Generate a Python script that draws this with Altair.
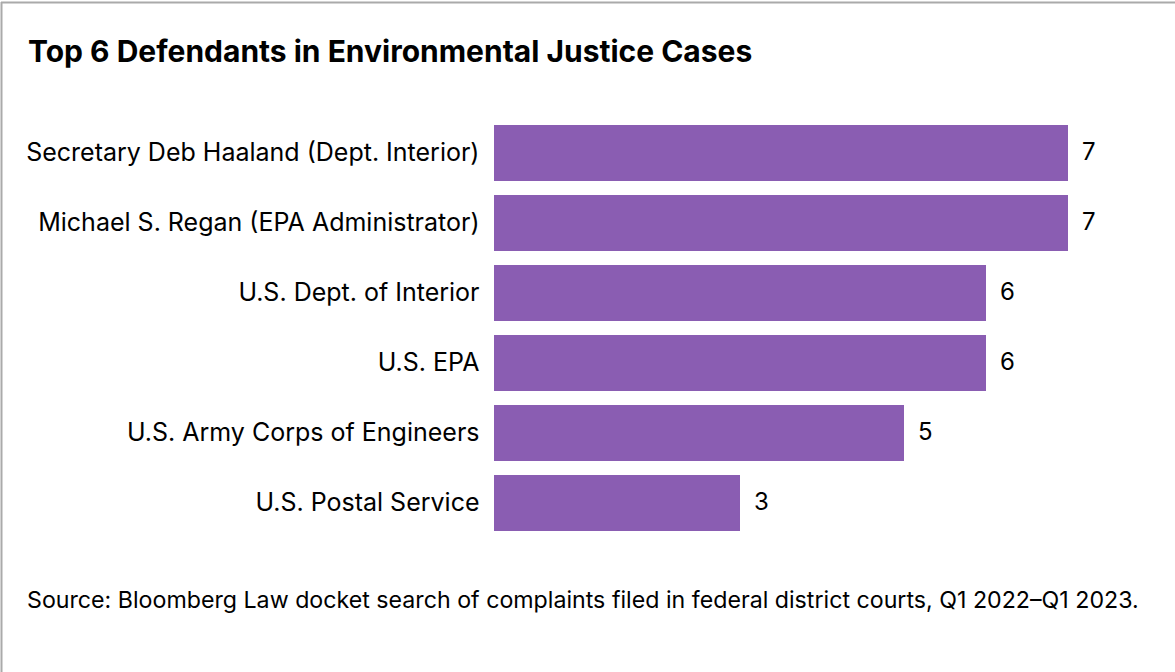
import altair as alt
import pandas as pd

# Defendants and number of environmental justice cases naming them
defendants = [
    "Secretary Deb Haaland (Dept. Interior)",
    "Michael S. Regan (EPA Administrator)",
    "U.S. Dept. of Interior",
    "U.S. EPA",
    "U.S. Army Corps of Engineers",
    "U.S. Postal Service",
]
cases = [7, 7, 6, 6, 5, 3]

title_text = "Top 6 Defendants in Environmental Justice Cases"
source_text = ("Source: Bloomberg Law docket search of complaints filed in federal "
               "district courts, Q1 2022\u2013Q1 2023.")

df = pd.DataFrame({"defendant": defendants, "cases": cases})

FONT = "Inter"
BAR_COLOR = "#8a5db2"
PLOT_W, PLOT_H = 574, 420
LEFT, TOP = 494, 118
TOTAL_W, TOTAL_H = 1175, 672

base = alt.Chart(df).encode(
    y=alt.Y(
        "defendant:N",
        sort=defendants,
        scale=alt.Scale(paddingInner=0.2, paddingOuter=0.1),
        axis=alt.Axis(
            title=None, domain=False, ticks=False, labelPadding=15,
            labelFontSize=25, labelColor="#000000", labelFont=FONT,
            labelLimit=700,
        ),
    )
)

bars = base.mark_bar(color=BAR_COLOR).encode(
    x=alt.X("cases:Q", scale=alt.Scale(domain=[0, 7], nice=False), axis=None)
)

values = base.mark_text(
    align="left", baseline="middle", dx=14, fontSize=24, font=FONT, color="#000000"
).encode(x="cases:Q", text="cases:Q")

note = alt.Chart(pd.DataFrame({"note": [source_text]})).mark_text(
    align="left", baseline="alphabetic", fontSize=23.2, font=FONT, color="#000000"
).encode(
    text="note:N",
    x=alt.value(27 - LEFT),
    y=alt.value(608 - TOP),
)

frame_df = pd.DataFrame({"k": [0]})
top_edge = alt.Chart(frame_df).mark_rule(color="#aaaaaa", strokeWidth=2).encode(
    x=alt.value(1 - LEFT), x2=alt.value(TOTAL_W - LEFT), y=alt.value(2.5 - TOP)
)
left_edge = alt.Chart(frame_df).mark_rule(color="#aaaaaa", strokeWidth=2).encode(
    x=alt.value(1.5 - LEFT), y=alt.value(2 - TOP), y2=alt.value(TOTAL_H - TOP)
)

chart = (
    alt.layer(bars, values, note, top_edge, left_edge)
    .properties(
        width=PLOT_W,
        height=PLOT_H,
        title=alt.TitleParams(
            title_text, anchor="start", frame="group", font=FONT, fontSize=30,
            fontWeight="bold", color="#000000", baseline="alphabetic",
            offset=0, dx=28 - LEFT, dy=91,
        ),
        autosize=alt.AutoSizeParams(type="none"),
        padding={"left": LEFT, "top": TOP,
                 "right": TOTAL_W - LEFT - PLOT_W, "bottom": TOTAL_H - TOP - PLOT_H},
        background="#ffffff",
    )
    .configure_view(stroke=None)
)

chart.save("out.html", embed_options={"renderer": "svg", "actions": False})
